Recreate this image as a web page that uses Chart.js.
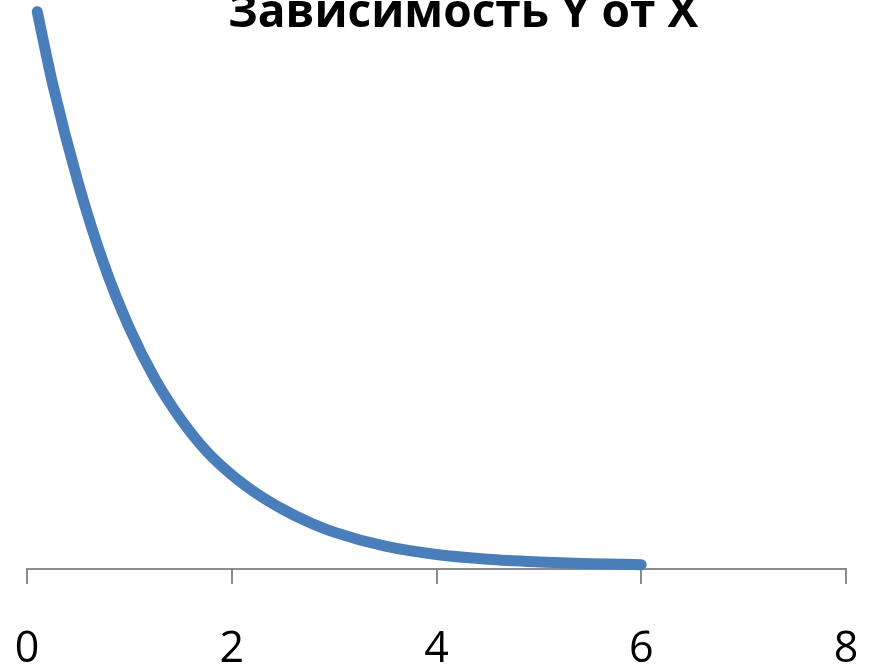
<!DOCTYPE html>
<html>
<head>
<meta charset="utf-8">
<title>Зависимость Y от X</title>
<script src="https://cdn.jsdelivr.net/npm/chart.js@4.4.0/dist/chart.umd.min.js"></script>
<style>
  html, body { margin: 0; padding: 0; background: #fff; }
  #wrap { width: 871px; height: 666px; }
</style>
</head>
<body>
<div id="wrap"><canvas id="chart"></canvas></div>
<script>
// values
const xValues = [0.1, 0.25, 0.5, 0.75, 1.0, 1.25, 1.5, 1.75, 2.0, 2.25, 2.5, 2.75, 3.0, 3.5, 4.0, 4.5, 5.0, 5.5, 6.0];
const yValues = [0.906, 0.789, 0.628, 0.496, 0.392, 0.309, 0.244, 0.192, 0.153, 0.122, 0.097, 0.0765, 0.060, 0.037, 0.0235, 0.0158, 0.0115, 0.0087, 0.007];
const xTicks = [0, 2, 4, 6, 8];
const titleText = 'Зависимость Y от X';

const points = xValues.map((x, i) => ({ x: x, y: yValues[i] }));

// title sits a bit right of centre and is cut at the top, like the original
const titlePlugin = {
    id: 'chartTitle',
    afterDraw(chart) {
        const c = chart.ctx;
        c.save();
        c.font = 'bold 46px "Open Sans"';
        c.fillStyle = '#000';
        c.textAlign = 'center';
        c.textBaseline = 'alphabetic';
        c.fillText(titleText, 463, 27);
        c.restore();
    }
};

const ctx = document.getElementById('chart').getContext('2d');
new Chart(ctx, {
    type: 'scatter',
    data: {
        datasets: [{
            data: points,
            showLine: true,
            borderColor: '#4a7ebb',
            borderWidth: 11,
            borderCapStyle: 'round',
            borderJoinStyle: 'round',
            pointRadius: 0,
            cubicInterpolationMode: 'monotone',
            clip: false
        }]
    },
    options: {
        responsive: true,
        maintainAspectRatio: false,
        animation: false,
        layout: { padding: { left: 27, right: 25, top: 0, bottom: 0 } },
        plugins: {
            legend: { display: false },
            tooltip: { enabled: false },
            title: { display: false }
        },
        scales: {
            x: {
                type: 'linear',
                min: xTicks[0],
                max: xTicks[xTicks.length - 1],
                afterBuildTicks: (axis) => { axis.ticks = xTicks.map(v => ({ value: v })); },
                afterFit: (axis) => {
                    axis.height = 97;
                    axis.paddingLeft = 0;
                    axis.paddingRight = 0;
                },
                grid: { drawOnChartArea: false, drawTicks: true, tickLength: 15, color: '#8c8c8c', lineWidth: 2 },
                border: { display: true, color: '#8c8c8c', width: 2 },
                ticks: {
                    color: '#000',
                    padding: 40,
                    maxRotation: 0,
                    font: { family: 'Open Sans', size: 43 }
                }
            },
            y: {
                display: false,
                min: 0,
                max: 0.925
            }
        }
    },
    plugins: [titlePlugin]
});
</script>
</body>
</html>
